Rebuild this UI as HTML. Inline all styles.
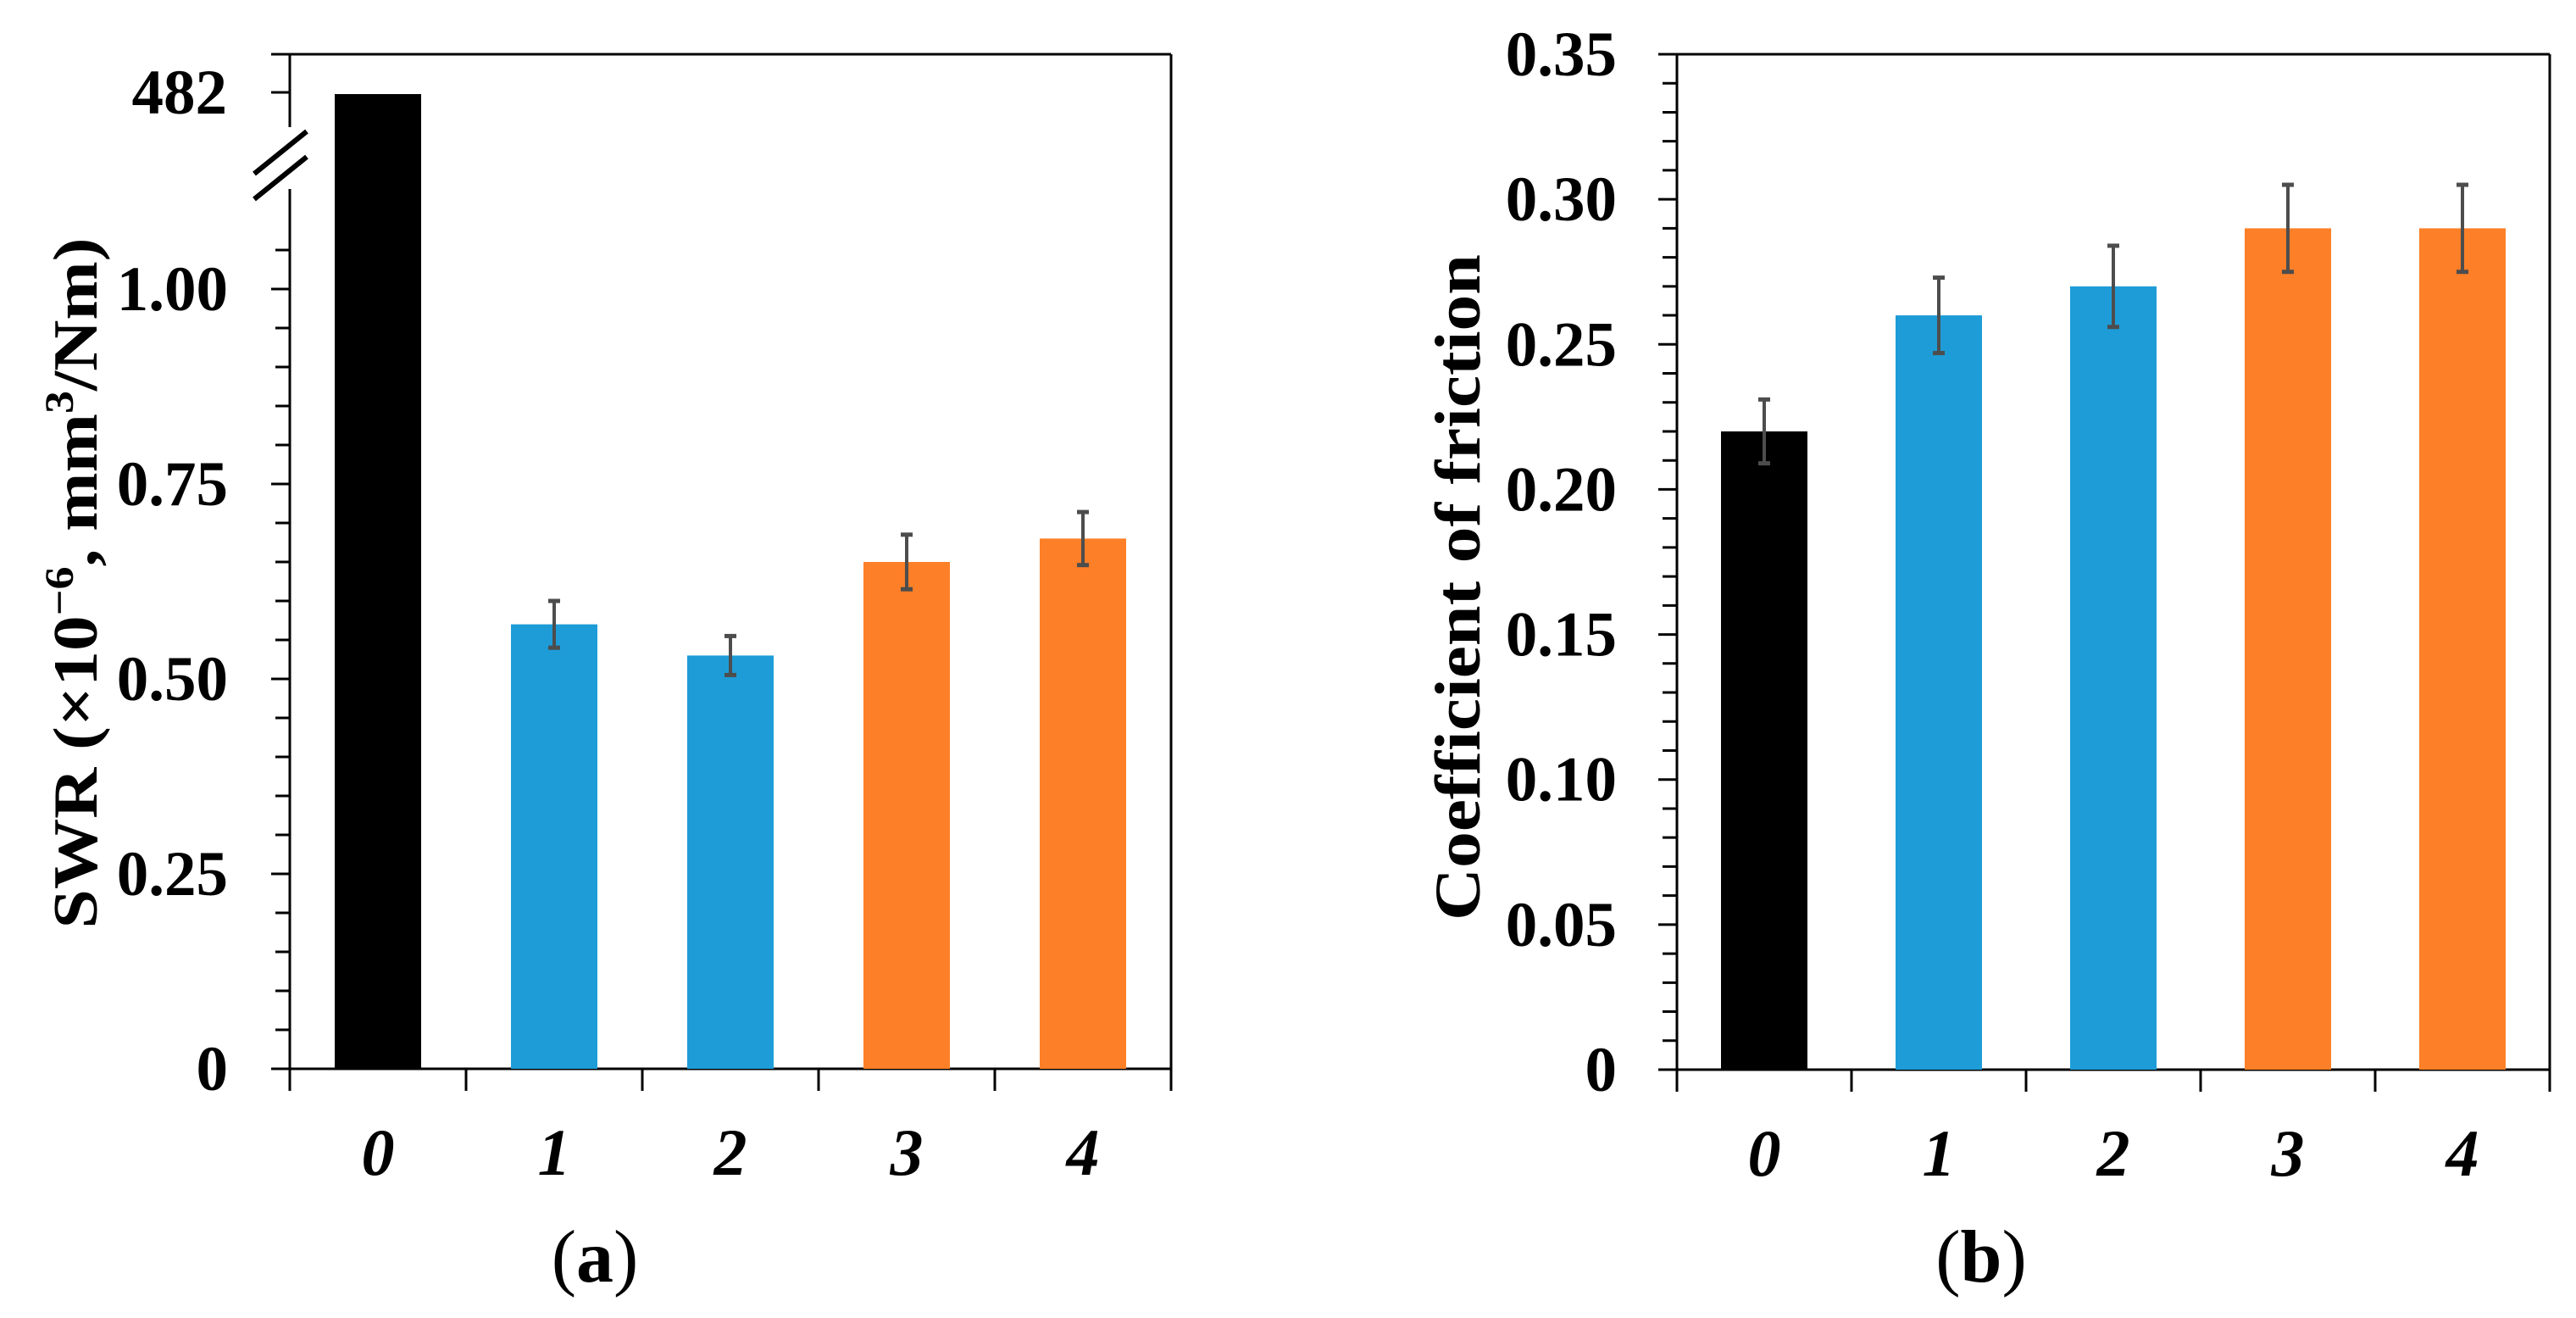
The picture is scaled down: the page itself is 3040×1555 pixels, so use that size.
<!DOCTYPE html>
<html><head><meta charset="utf-8"><style>
html,body{margin:0;padding:0;background:#fff;}
svg{display:block;font-family:"Liberation Serif",serif;}
</style></head><body>
<svg id="svg" width="3040" height="1555" viewBox="0 0 3040 1555" xmlns="http://www.w3.org/2000/svg">
<g id="pa"></g>
<g id="pb"></g>
</svg>
<script>
const categories = ["0","1","2","3","4"];
const colorsA = ["#000000","#1e9cd8","#1e9cd8","#fd7f27","#fd7f27"];
const swrValues = [482, 0.57, 0.53, 0.65, 0.68];
const swrErrors = [0, 0.03, 0.025, 0.035, 0.034];
const swrTicks = [0, 0.25, 0.5, 0.75, 1.0];
const swrTickLabels = ["0","0.25","0.50","0.75","1.00"];
const swrBreakLabel = "482";
const cofValues = [0.22, 0.26, 0.27, 0.29, 0.29];
const cofErrors = [0.011, 0.013, 0.014, 0.015, 0.015];
const cofTicks = [0, 0.05, 0.10, 0.15, 0.20, 0.25, 0.30, 0.35];
const cofTickLabels = ["0","0.05","0.10","0.15","0.20","0.25","0.30","0.35"];

const NS = "http://www.w3.org/2000/svg";
function mk(parent, tag, attrs, text){
  const e = document.createElementNS(NS, tag);
  for (const k in attrs) e.setAttribute(k, attrs[k]);
  if (text !== undefined) e.textContent = text;
  parent.appendChild(e);
  return e;
}

function drawPanel(g, o){
  const L=o.left, R=o.right, T=64, B=o.bottom;
  const n = categories.length, cw = (R-L)/n, bw = 102;
  const xc = i => L + cw*(i+0.5);
  let e;
  e = mk(g,'line',{x1:L,y1:T,x2:R,y2:T,stroke:'#000','stroke-width':3});
   
  e = mk(g,'line',{x1:R,y1:T,x2:R,y2:B+26,stroke:'#000','stroke-width':3});
   
  e = mk(g,'line',{x1:L-22,y1:B,x2:R,y2:B,stroke:'#000','stroke-width':3});
   
  for (let i=0;i<=n;i++){
    e = mk(g,'line',{x1:L+cw*i,y1:B,x2:L+cw*i,y2:B+26,stroke:'#000','stroke-width':3});
     
  }
  for (let i=0;i<n;i++){
    const v = o.values[i];
    const yt = o.y(v);
    e = mk(g,'rect',{x:xc(i)-bw/2,y:yt,width:bw,height:B-yt,fill:colorsA[i]});
     
    const er = o.errors[i];
    if (er>0){
      const y1=o.y(v+er), y2=o.y(v-er);
      const eg = mk(g,'g',{stroke:'#4d4d4d','stroke-width':5});
       
      mk(eg,'line',{x1:xc(i),y1:y1,x2:xc(i),y2:y2,'stroke-width':4});
      mk(eg,'line',{x1:xc(i)-7,y1:y1,x2:xc(i)+7,y2:y1});
      mk(eg,'line',{x1:xc(i)-7,y1:y2,x2:xc(i)+7,y2:y2});
    }
    e = mk(g,'text',{x:xc(i),y:B+125,'font-size':78,'font-weight':'bold','font-style':'italic','text-anchor':'middle'},categories[i]);
     
  }
}

(function(){
  const g = document.getElementById('pa');
  const L=342,R=1382,B=1261, per=920;
  const yLow = v => B - v*per;
  const yA = v => v>10 ? 111 : yLow(v);
  let e;
  e = mk(g,'line',{x1:L,y1:64,x2:L,y2:150,stroke:'#000','stroke-width':3});
   
  e = mk(g,'line',{x1:L,y1:223,x2:L,y2:B,stroke:'#000','stroke-width':3});
   
  e = mk(g,'line',{x1:L-22,y1:64,x2:L,y2:64,stroke:'#000','stroke-width':3});
   
  e = mk(g,'line',{x1:L-22,y1:109,x2:L,y2:109,stroke:'#000','stroke-width':3});
   
  const br = mk(g,'g',{stroke:'#000','stroke-width':6,fill:'none'});
   
  mk(br,'line',{x1:300,y1:205,x2:362,y2:155});
  mk(br,'line',{x1:300,y1:235,x2:362,y2:185});
  for (let k=0;k<=21;k++){
    const v=k*0.05, y=yLow(v);
    const major = (k%5===0);
    e = mk(g,'line',{x1:L-(major?22:17),y1:y,x2:L,y2:y,stroke:'#000','stroke-width':3});
     
  }
  for (let i=0;i<swrTicks.length;i++){
    e = mk(g,'text',{x:269,y:yLow(swrTicks[i])+25,'font-size':75,'font-weight':'bold','text-anchor':'end'},swrTickLabels[i]);
     
  }
  e = mk(g,'text',{x:268,y:134,'font-size':75,'font-weight':'bold','text-anchor':'end'},swrBreakLabel);
   
  const t = mk(g,'text',{x:0,y:0,'font-size':74,'font-weight':'bold','text-anchor':'middle',transform:'translate(114,688) rotate(-90)',textLength:815,lengthAdjust:'spacingAndGlyphs'});
   
  t.innerHTML = 'SWR (×10<tspan dy="-28" font-size="48">−6</tspan><tspan dy="28">, mm</tspan><tspan dy="-28" font-size="48">3</tspan><tspan dy="28">/Nm)</tspan>';
  drawPanel(g,{left:L,right:R,bottom:B,y:yA,values:swrValues,errors:swrErrors});
  e = mk(g,'text',{x:702,y:1512,'font-size':88,'text-anchor':'middle'});
   
  e.innerHTML='(<tspan font-weight="bold">a</tspan>)';
})();

(function(){
  const g = document.getElementById('pb');
  const L=1979,R=3009,B=1262,T=64, maxV=0.35;
  const y = v => B - v/maxV*(B-T);
  let e;
  e = mk(g,'line',{x1:L,y1:T,x2:L,y2:B,stroke:'#000','stroke-width':3});
   
  for (let k=0;k<=35;k++){
    const v=k*0.01, yy=y(v);
    const major=(k%5===0);
    e = mk(g,'line',{x1:L-(major?22:17),y1:yy,x2:L,y2:yy,stroke:'#000','stroke-width':3});
     
  }
  for (let i=0;i<cofTicks.length;i++){
    e = mk(g,'text',{x:1908,y:y(cofTicks[i])+25,'font-size':75,'font-weight':'bold','text-anchor':'end'},cofTickLabels[i]);
     
  }
  e = mk(g,'text',{x:0,y:0,'font-size':76,'font-weight':'bold','text-anchor':'middle',transform:'translate(1746,693) rotate(-90)',textLength:786,lengthAdjust:'spacingAndGlyphs'},'Coefficient of friction');
   
  drawPanel(g,{left:L,right:R,bottom:B,y:y,values:cofValues,errors:cofErrors});
  e = mk(g,'text',{x:2338,y:1512,'font-size':88,'text-anchor':'middle'});
   
  e.innerHTML='(<tspan font-weight="bold">b</tspan>)';
})();
</script>
</body></html>
